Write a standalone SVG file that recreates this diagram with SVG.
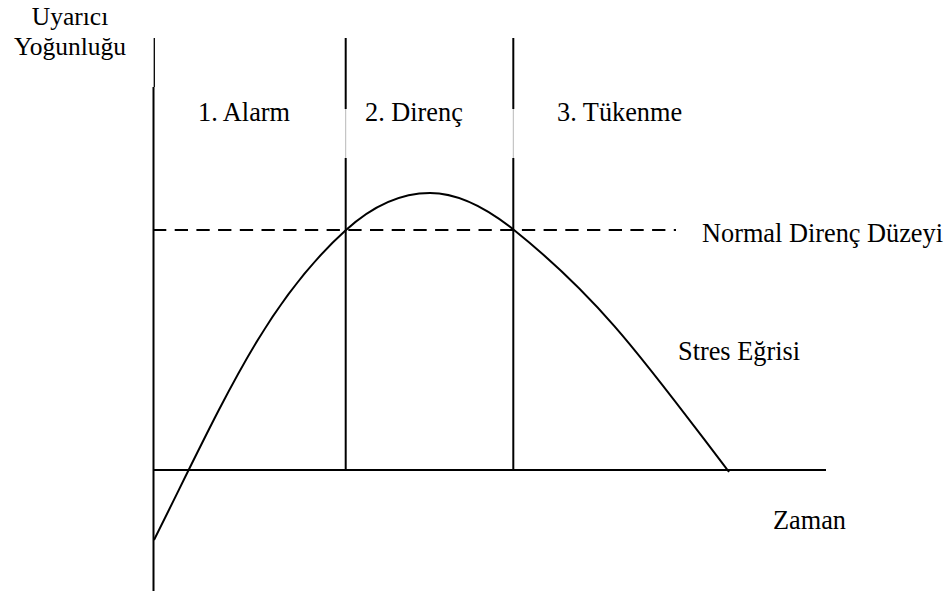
<svg xmlns="http://www.w3.org/2000/svg" width="949" height="595" viewBox="0 0 949 595">
<style>
text{font-family:"Liberation Serif","Times New Roman",serif;font-size:26.3px;fill:#000}
.ax{font-size:25.5px}
.ln{stroke:#000;stroke-width:2;fill:none}
.lt{stroke:#b8b8b8;stroke-width:1;fill:none}
</style>
<rect width="949" height="595" fill="#fff"/>
<g id="labels">
<text class="ax" x="70" y="25" text-anchor="middle">Uyarıcı</text>
<text class="ax" x="70" y="55" text-anchor="middle">Yoğunluğu</text>
<text x="198" y="121">1. Alarm</text>
<text x="365" y="121">2. Direnç</text>
<text x="557" y="121">3. Tükenme</text>
<text x="702" y="242">Normal Direnç Düzeyi</text>
<text x="678" y="360">Stres Eğrisi</text>
<text x="773" y="529">Zaman</text>
</g>
<g id="connectors">
<line x1="154.3" y1="38" x2="154.3" y2="87" stroke="#000" stroke-width="1.3"/>
<line class="ln" x1="153.5" y1="87" x2="153.5" y2="591"/>
<line class="ln" x1="345.7" y1="38" x2="345.7" y2="109"/>
<line class="lt" x1="345.7" y1="109" x2="345.7" y2="158"/>
<line class="ln" x1="345.7" y1="158" x2="345.7" y2="471"/>
<line class="ln" x1="513.3" y1="38" x2="513.3" y2="109"/>
<line class="lt" x1="513.3" y1="109" x2="513.3" y2="158"/>
<line class="ln" x1="513.3" y1="158" x2="513.3" y2="471"/>
<line class="ln" x1="153" y1="470" x2="826" y2="470"/>
<line class="ln" x1="153" y1="230" x2="676" y2="230" stroke-dasharray="13.3 8.4"/>
<path class="ln" d="M154,540 C224,400 266,302 346,230 C373.3,205.3 401.3,193 430,193 C455.2,193 483.2,205.3 514,230 C604,302 649,367.2 729,472"/>
</g>
</svg>
